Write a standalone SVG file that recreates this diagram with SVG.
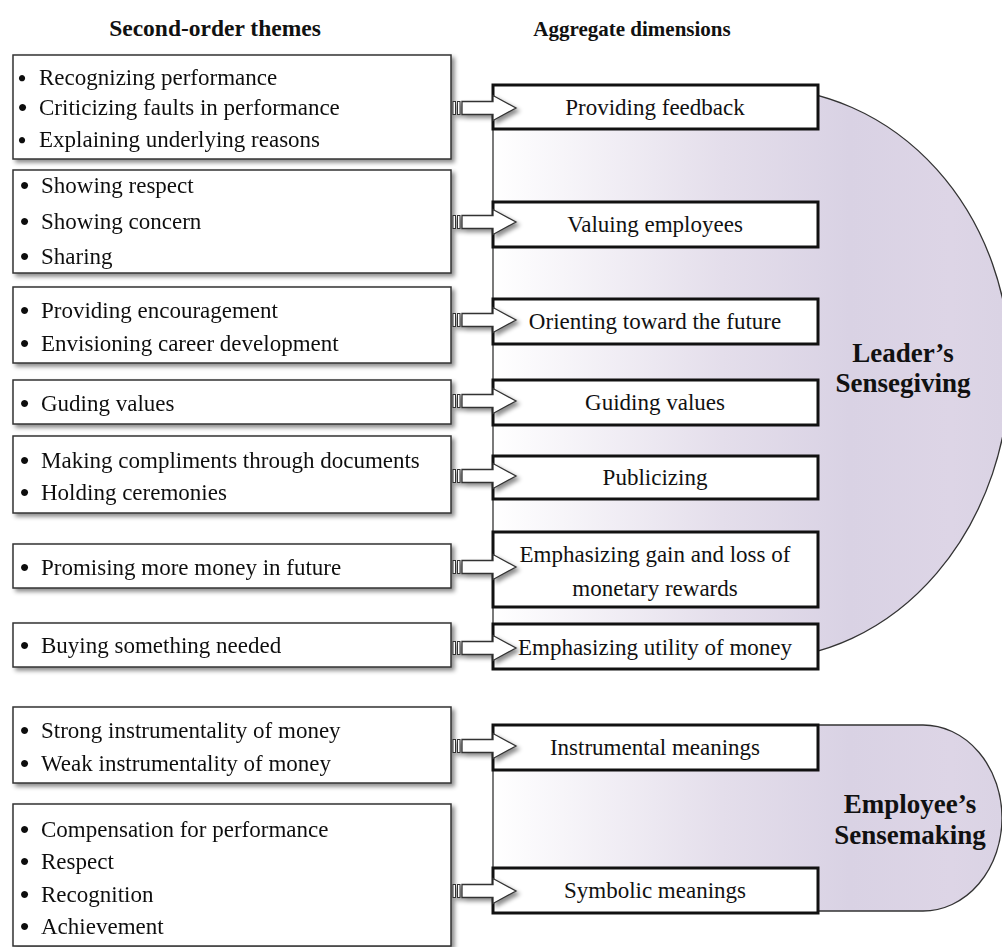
<svg xmlns="http://www.w3.org/2000/svg" width="1002" height="947" viewBox="0 0 1002 947">
<defs>
<style>
text{font-family:"Liberation Serif","Times New Roman",serif;fill:#111;}
.hd{font-size:22.5px;font-weight:bold;text-anchor:middle;}
.it{font-size:23px;}
.bu{font-size:26px;font-weight:bold;}
.bs{font-size:23px;font-weight:bold;}
.ct{font-size:23px;text-anchor:middle;}
.big{font-size:27px;font-weight:bold;text-anchor:middle;}
.lb{fill:#fff;stroke:#333;stroke-width:1.5;}
.rb{fill:#fff;stroke:#111;stroke-width:3;}
.dsh{fill:url(#grad);stroke:#333;stroke-width:1.3;}
.arr{fill:#fff;stroke:#333;stroke-width:1.3;}
.str{fill:#fff;stroke:#333;stroke-width:1;}
</style>
<linearGradient id="grad" gradientUnits="userSpaceOnUse" x1="493" y1="0" x2="1002" y2="0">
<stop offset="0" stop-color="#ffffff"/>
<stop offset="0.45" stop-color="#e4deeb"/>
<stop offset="0.7" stop-color="#d9d2e4"/>
<stop offset="0.9" stop-color="#ddd5e6"/>
<stop offset="1" stop-color="#dad3e4"/>
</linearGradient>
<filter id="sh" x="-10%" y="-10%" width="130%" height="140%">
<feDropShadow dx="3" dy="3" stdDeviation="2" flood-color="#000" flood-opacity="0.45"/>
</filter>
<g id="sarrow">
<rect class="str" x="453" y="-6.5" width="2.5" height="13"/>
<rect class="str" x="457.5" y="-6.5" width="2.5" height="13"/>
<path class="arr" d="M462,-6.5 H493 V-12.5 L516,0 L493,12.5 V6.5 H462 Z"/>
</g>
</defs>

<g id="headers">
<text class="hd" x="215" y="36" style="font-size:23.5px">Second-order themes</text>
<text class="hd" x="632" y="36" style="font-size:21px">Aggregate dimensions</text>
</g>

<g id="leaders-sensegiving">
<path class="dsh" d="M493,88 H760 A250 278 0 0 1 1010,366 A250 293 0 0 1 760,659 H493 Z"/>
<text class="big" x="903" y="362">Leader’s</text>
<text class="big" x="903" y="392">Sensegiving</text>
</g>

<g id="employees-sensemaking">
<path class="dsh" d="M493,725 H923 A79 93 0 0 1 923,911 H493 Z"/>
<text class="big" x="910" y="813">Employee’s</text>
<text class="big" x="910" y="844">Sensemaking</text>
</g>

<g id="theme1" filter="url(#sh)">
<rect class="lb" x="13" y="55" width="438" height="104"/>
<text class="it"><tspan class="bs" x="18" y="86">•</tspan><tspan x="39" y="85">Recognizing performance</tspan></text>
<text class="it"><tspan class="bu" x="18" y="116">•</tspan><tspan x="39" y="115">Criticizing faults in performance</tspan></text>
<text class="it"><tspan class="bs" x="18" y="148">•</tspan><tspan x="39" y="147">Explaining underlying reasons</tspan></text>
</g>
<g id="theme2" filter="url(#sh)">
<rect class="lb" x="13" y="170" width="438" height="103"/>
<text class="it"><tspan class="bu" x="20" y="194">•</tspan><tspan x="41" y="193">Showing respect</tspan></text>
<text class="it"><tspan class="bu" x="20" y="230">•</tspan><tspan x="41" y="229">Showing concern</tspan></text>
<text class="it"><tspan class="bu" x="20" y="265">•</tspan><tspan x="41" y="264">Sharing</tspan></text>
</g>
<g id="theme3" filter="url(#sh)">
<rect class="lb" x="13" y="287" width="438" height="76"/>
<text class="it"><tspan class="bu" x="20" y="319">•</tspan><tspan x="41" y="318">Providing encouragement</tspan></text>
<text class="it"><tspan class="bu" x="20" y="352">•</tspan><tspan x="41" y="351">Envisioning career development</tspan></text>
</g>
<g id="theme4" filter="url(#sh)">
<rect class="lb" x="13" y="380" width="438" height="44"/>
<text class="it"><tspan class="bu" x="20" y="412">•</tspan><tspan x="41" y="411">Guding values</tspan></text>
</g>
<g id="theme5" filter="url(#sh)">
<rect class="lb" x="13" y="436" width="438" height="77"/>
<text class="it"><tspan class="bu" x="20" y="469">•</tspan><tspan x="41" y="468">Making compliments through documents</tspan></text>
<text class="it"><tspan class="bu" x="20" y="501">•</tspan><tspan x="41" y="500">Holding ceremonies</tspan></text>
</g>
<g id="theme6" filter="url(#sh)">
<rect class="lb" x="13" y="544" width="438" height="44"/>
<text class="it"><tspan class="bu" x="20" y="576">•</tspan><tspan x="41" y="575">Promising more money in future</tspan></text>
</g>
<g id="theme7" filter="url(#sh)">
<rect class="lb" x="13" y="623" width="438" height="44"/>
<text class="it"><tspan class="bu" x="20" y="654">•</tspan><tspan x="41" y="653">Buying something needed</tspan></text>
</g>
<g id="theme8" filter="url(#sh)">
<rect class="lb" x="13" y="707" width="438" height="76"/>
<text class="it"><tspan class="bu" x="20" y="739">•</tspan><tspan x="41" y="738">Strong instrumentality of money</tspan></text>
<text class="it"><tspan class="bu" x="20" y="772">•</tspan><tspan x="41" y="771">Weak instrumentality of money</tspan></text>
</g>
<g id="theme9" filter="url(#sh)">
<rect class="lb" x="13" y="804" width="438" height="142"/>
<text class="it"><tspan class="bu" x="20" y="838">•</tspan><tspan x="41" y="837">Compensation for performance</tspan></text>
<text class="it"><tspan class="bu" x="20" y="870">•</tspan><tspan x="41" y="869">Respect</tspan></text>
<text class="it"><tspan class="bu" x="20" y="903">•</tspan><tspan x="41" y="902">Recognition</tspan></text>
<text class="it"><tspan class="bu" x="20" y="935">•</tspan><tspan x="41" y="934">Achievement</tspan></text>
</g>

<g id="dim1"><rect class="rb" x="493" y="85" width="325" height="44"/><text class="ct" x="655" y="115">Providing feedback</text></g>
<g id="dim2"><rect class="rb" x="493" y="202" width="325" height="45"/><text class="ct" x="655" y="232">Valuing employees</text></g>
<g id="dim3"><rect class="rb" x="493" y="299" width="325" height="45"/><text class="ct" x="655" y="329">Orienting toward the future</text></g>
<g id="dim4"><rect class="rb" x="493" y="380" width="325" height="45"/><text class="ct" x="655" y="410">Guiding values</text></g>
<g id="dim5"><rect class="rb" x="493" y="456" width="325" height="43"/><text class="ct" x="655" y="485">Publicizing</text></g>
<g id="dim6"><rect class="rb" x="493" y="532" width="325" height="75"/><text class="ct" x="655" y="562">Emphasizing gain and loss of</text><text class="ct" x="655" y="596">monetary rewards</text></g>
<g id="dim7"><rect class="rb" x="493" y="624" width="325" height="45"/><text class="ct" x="655" y="655">Emphasizing utility of money</text></g>
<g id="dim8"><rect class="rb" x="493" y="725" width="325" height="45"/><text class="ct" x="655" y="755">Instrumental meanings</text></g>
<g id="dim9"><rect class="rb" x="493" y="868" width="325" height="45"/><text class="ct" x="655" y="898">Symbolic meanings</text></g>

<g id="connectors" filter="url(#sh)">
<use href="#sarrow" y="108"/>
<use href="#sarrow" y="222"/>
<use href="#sarrow" y="320"/>
<use href="#sarrow" y="401"/>
<use href="#sarrow" y="476"/>
<use href="#sarrow" y="567"/>
<use href="#sarrow" y="648"/>
<use href="#sarrow" y="746"/>
<use href="#sarrow" y="891"/>
</g>
</svg>
